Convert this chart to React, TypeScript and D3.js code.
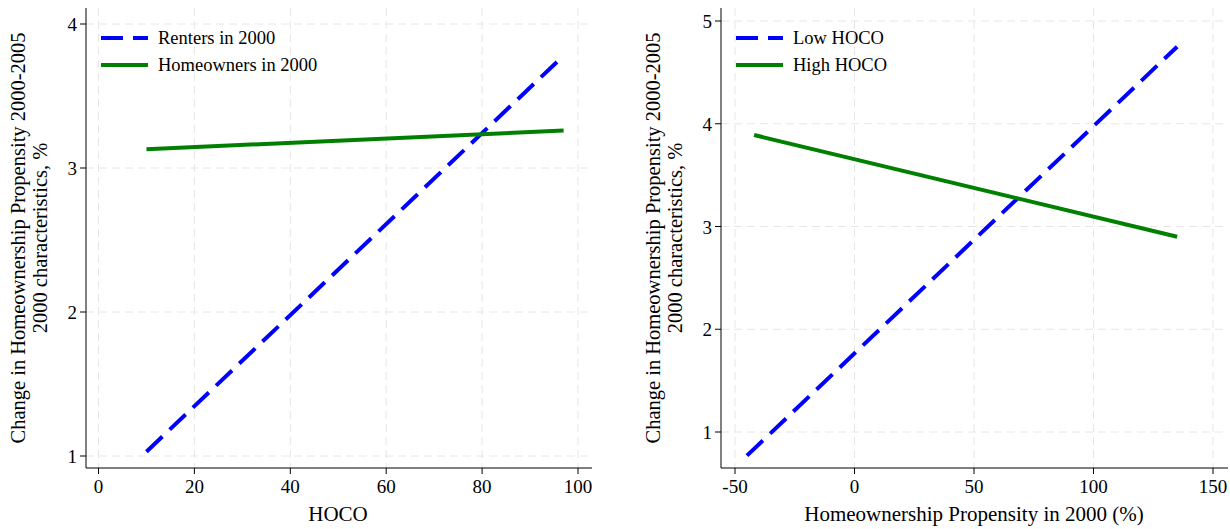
import React from "react";
import * as d3 from "d3";

const leftXTicks = [0, 20, 40, 60, 80, 100];
const leftYTicks = [1, 2, 3, 4];
const rentersX = [10, 97];
const rentersY = [1.03, 3.78];
const ownersX = [10, 97];
const ownersY = [3.13, 3.26];

const rightXTicks = [-50, 0, 50, 100, 150];
const rightYTicks = [1, 2, 3, 4, 5];
const lowX = [-45, 135];
const lowY = [0.77, 4.75];
const highX = [-42, 135];
const highY = [3.89, 2.9];

const FONT = "Liberation Serif, Times New Roman, serif";

type S = { x: number[]; y: number[]; color: string; dash: string; name: string };

function Panel(p: {
  axX: number; axY: number; right: number; top: number;
  xd: [number, number]; xr: [number, number]; yd: [number, number]; yr: [number, number];
  xt: number[]; yt: number[]; series: S[]; xlabel: string; xlabelX: number; ylabX: number;
}) {
  const x = d3.scaleLinear().domain(p.xd).range(p.xr);
  const y = d3.scaleLinear().domain(p.yd).range(p.yr);
  const line = d3.line<[number, number]>().x(d => x(d[0])).y(d => y(d[1]));
  return (
    <g fontFamily={FONT}>
      {p.yt.map(t => (
        <line key={"gy" + t} x1={p.axX} x2={p.right} y1={y(t)} y2={y(t)} stroke="#e6e6e6" strokeDasharray="8,5" />
      ))}
      {p.xt.map(t => (
        <line key={"gx" + t} x1={x(t)} x2={x(t)} y1={p.top} y2={p.axY} stroke="#e6e6e6" strokeDasharray="8,5" />
      ))}
      <line x1={p.axX} x2={p.axX} y1={p.top} y2={p.axY} stroke="black" />
      <line x1={p.axX} x2={p.right} y1={p.axY} y2={p.axY} stroke="black" />
      {p.yt.map(t => (
        <g key={"ty" + t}>
          <line x1={p.axX - 6} x2={p.axX} y1={y(t)} y2={y(t)} stroke="black" />
          <text x={p.axX - 9} y={y(t) + 7} textAnchor="end" fontSize={19}>{t}</text>
        </g>
      ))}
      {p.xt.map(t => (
        <g key={"tx" + t}>
          <line x1={x(t)} x2={x(t)} y1={p.axY} y2={p.axY + 6} stroke="black" />
          <text x={x(t)} y={p.axY + 25} textAnchor="middle" fontSize={19}>{t}</text>
        </g>
      ))}
      {p.series.map(s => (
        <path key={s.name} d={line(s.x.map((v, i) => [v, s.y[i]]))!} stroke={s.color} strokeWidth={4} fill="none" strokeDasharray={s.dash} />
      ))}
      {p.series.map((s, i) => (
        <g key={"lg" + s.name}>
          <line x1={p.axX + 15} x2={p.axX + 62} y1={38 + i * 27} y2={38 + i * 27} stroke={s.color} strokeWidth={4} strokeDasharray={s.dash} />
          <text x={p.axX + 72} y={44 + i * 27} fontSize={18.5}>{s.name}</text>
        </g>
      ))}
      <text x={p.xlabelX} y={p.axY + 53} textAnchor="middle" fontSize={21}>{p.xlabel}</text>
      <text transform={`translate(${p.ylabX},${(p.top + p.axY) / 2}) rotate(-90)`} textAnchor="middle" fontSize={20.5}>
        <tspan x={0} dy={0}>Change in Homeownership Propensity 2000-2005</tspan>
        <tspan x={0} dy={22}>2000 characteristics, %</tspan>
      </text>
    </g>
  );
}

export default function App() {
  return (
    <svg width={1230} height={529} style={{ position: "absolute", left: 0, top: 0, background: "white" }}>
      <Panel axX={86} axY={468} right={592} top={8} xd={[0, 100]} xr={[98.5, 578]} yd={[1, 4]} yr={[456, 24]}
        xt={leftXTicks} yt={leftYTicks} xlabel="HOCO" xlabelX={338} ylabX={25}
        series={[
          { x: rentersX, y: rentersY, color: "#0000ff", dash: "22,10", name: "Renters in 2000" },
          { x: ownersX, y: ownersY, color: "#008000", dash: "none", name: "Homeowners in 2000" },
        ]} />
      <Panel axX={721} axY={468} right={1228} top={8} xd={[-50, 150]} xr={[735, 1213]} yd={[1, 5]} yr={[432, 21]}
        xt={rightXTicks} yt={rightYTicks} xlabel="Homeownership Propensity in 2000 (%)" xlabelX={974} ylabX={660}
        series={[
          { x: lowX, y: lowY, color: "#0000ff", dash: "22,10", name: "Low HOCO" },
          { x: highX, y: highY, color: "#008000", dash: "none", name: "High HOCO" },
        ]} />
    </svg>
  );
}
